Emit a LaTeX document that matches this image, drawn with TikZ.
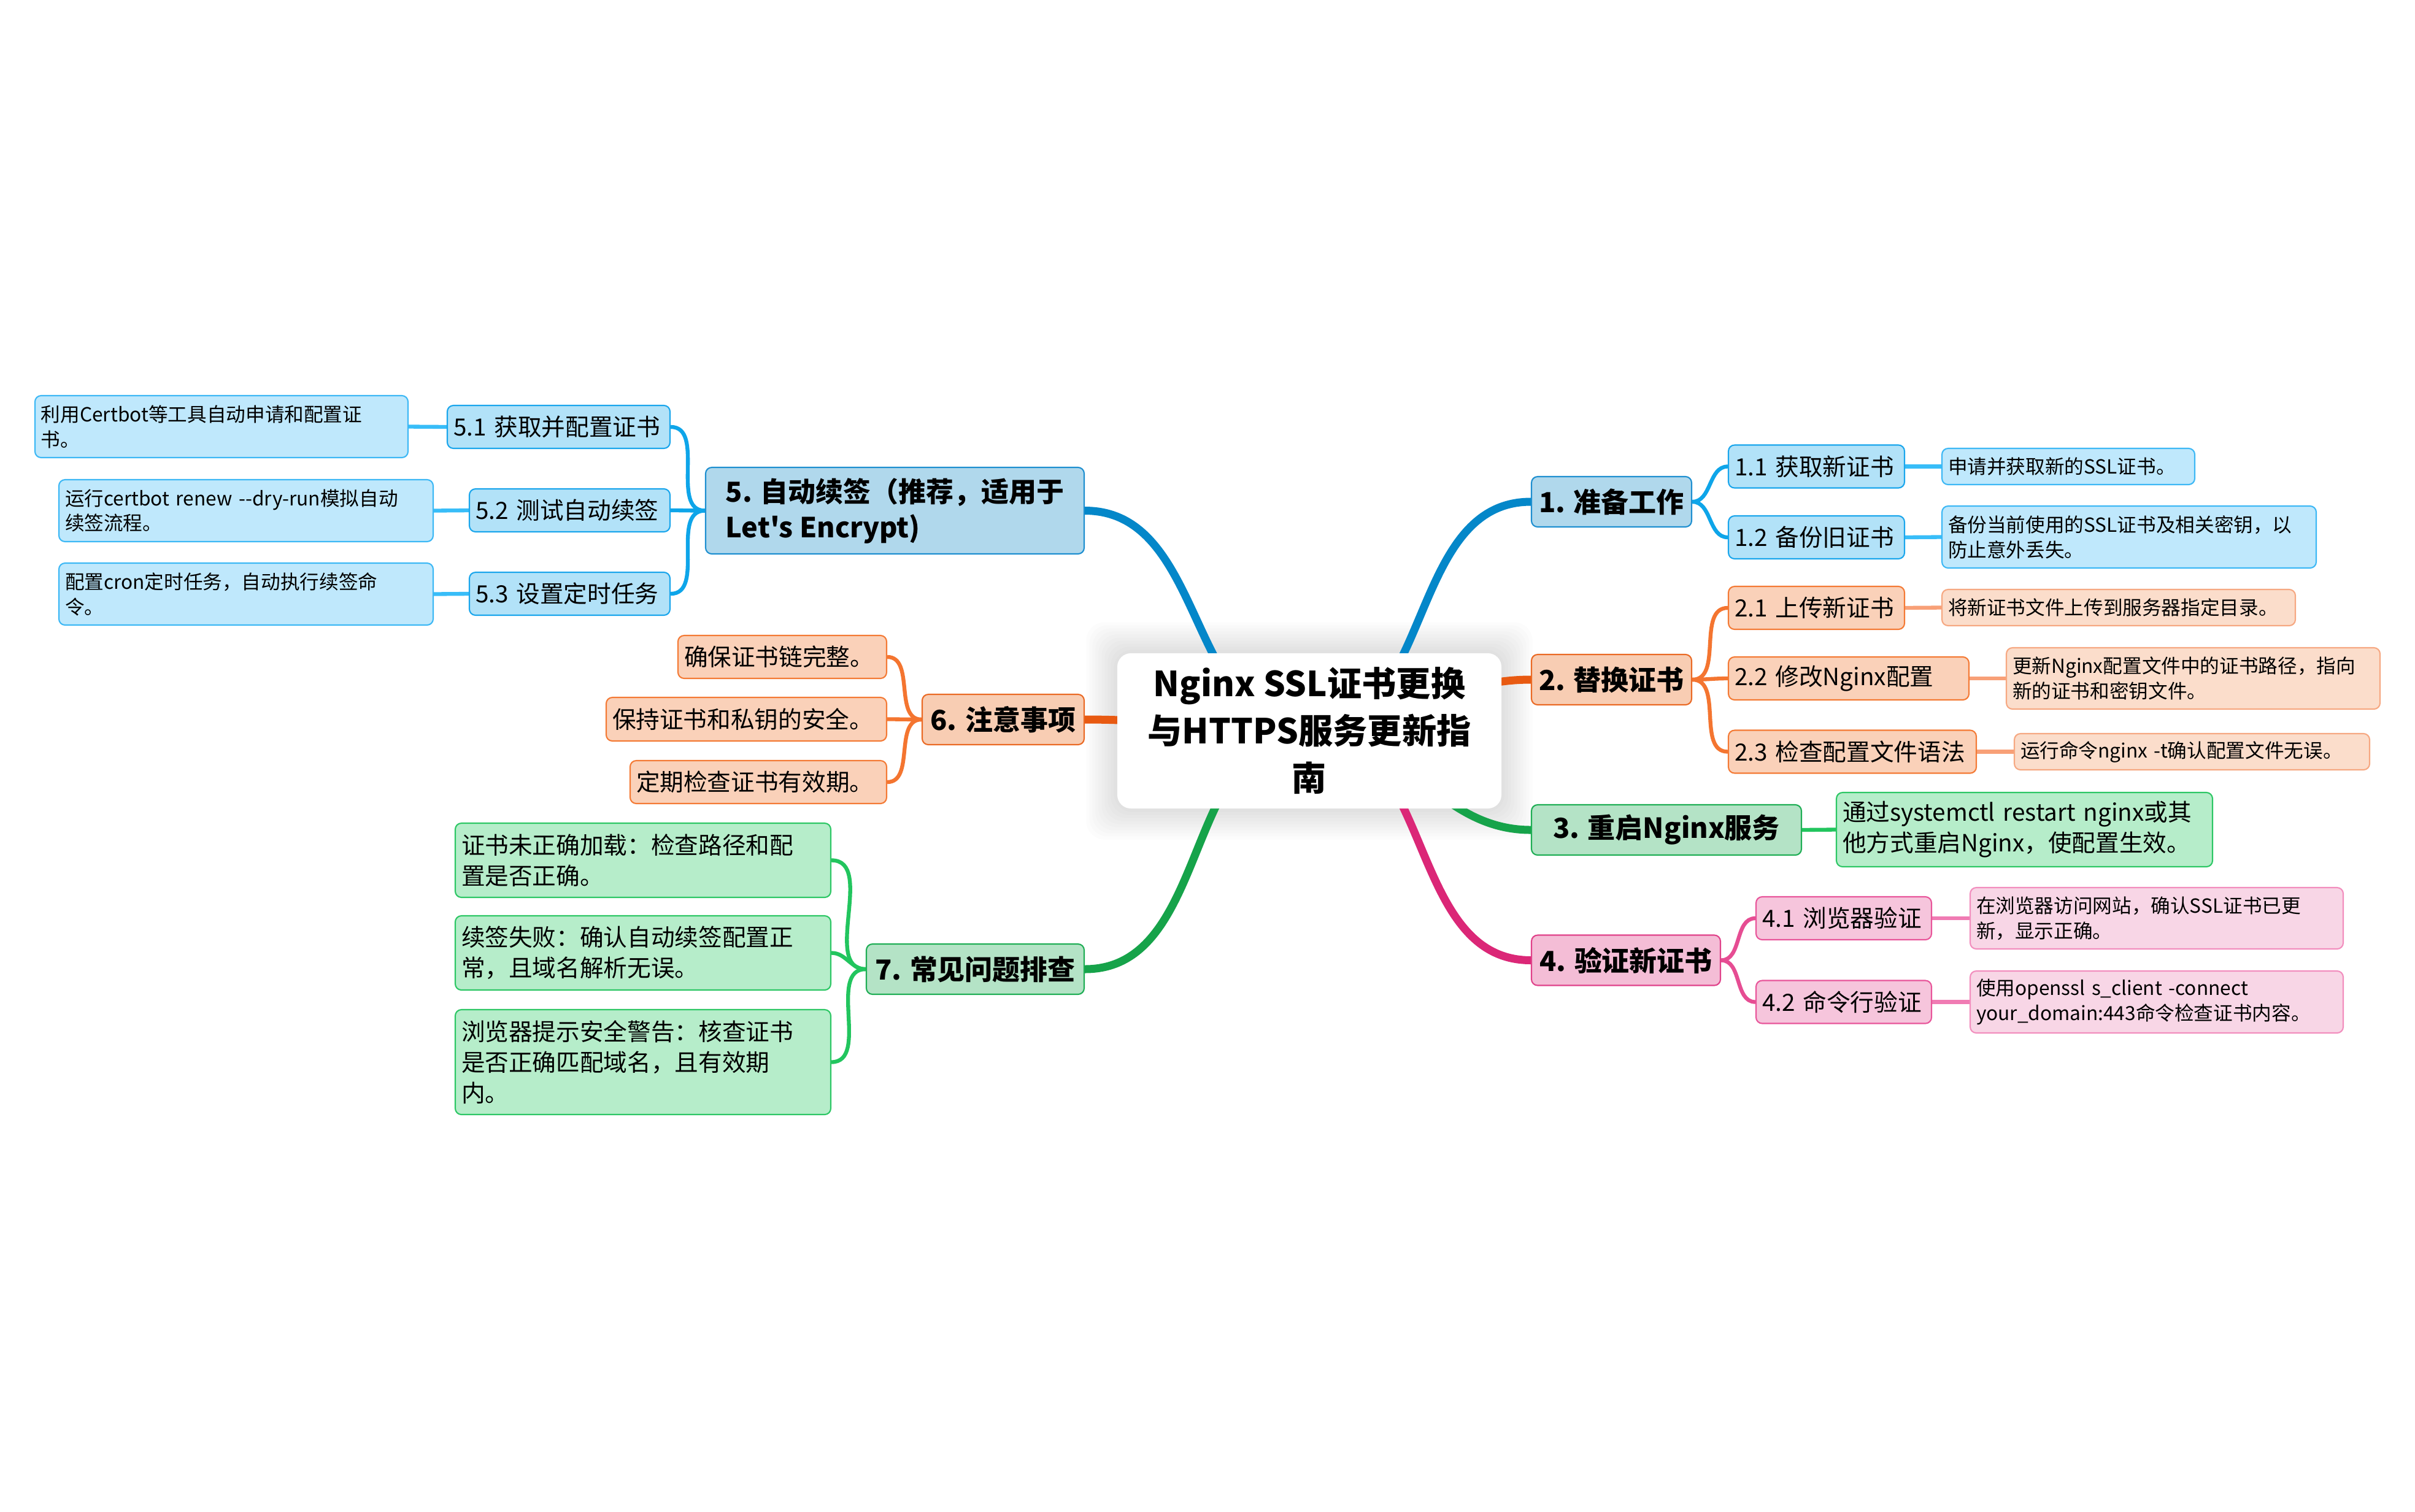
\documentclass[tikz,border=0pt]{standalone}
\usepackage{fontspec}
\setmainfont{Noto Sans CJK SC}[Ligatures=TeXOff]
\usetikzlibrary{backgrounds}

\definecolor{blueline}{HTML}{0487C9}
\definecolor{bluesubline}{HTML}{0EA5E9}
\definecolor{blueleafline}{HTML}{38BDF8}
\definecolor{bluemainfill}{HTML}{B0D8EC}
\definecolor{bluemaindraw}{HTML}{1E8FD0}
\definecolor{bluesubfill}{HTML}{B2E2F8}
\definecolor{bluesubdraw}{HTML}{1AA6EC}
\definecolor{blueleaffill}{HTML}{BFE8FC}
\definecolor{blueleafdraw}{HTML}{3DB8F5}

\definecolor{orangeline}{HTML}{E85A12}
\definecolor{orangesubline}{HTML}{F47530}
\definecolor{orangeleafline}{HTML}{F8A077}
\definecolor{orangemainfill}{HTML}{F8CDB3}
\definecolor{orangemaindraw}{HTML}{EA6A25}
\definecolor{orangesubfill}{HTML}{FAD1B9}
\definecolor{orangesubdraw}{HTML}{F47A35}
\definecolor{orangeleaffill}{HTML}{FBDDCB}
\definecolor{orangeleafdraw}{HTML}{F6A882}

\definecolor{greenline}{HTML}{16A34A}
\definecolor{greensubline}{HTML}{22C55E}
\definecolor{greenmainfill}{HTML}{B4E3C6}
\definecolor{greenmaindraw}{HTML}{1FAE55}
\definecolor{greenleaffill}{HTML}{B6EDCA}
\definecolor{greenleafdraw}{HTML}{2DC765}

\definecolor{pinkline}{HTML}{DB2777}
\definecolor{pinksubline}{HTML}{E64D93}
\definecolor{pinkleafline}{HTML}{F07BB3}
\definecolor{pinkmainfill}{HTML}{F4BDD6}
\definecolor{pinkmaindraw}{HTML}{E0428A}
\definecolor{pinksubfill}{HTML}{F6C5DC}
\definecolor{pinksubdraw}{HTML}{E8559A}
\definecolor{pinkleaffill}{HTML}{F8D6E6}
\definecolor{pinkleafdraw}{HTML}{F28EBE}

\begin{document}
\begin{tikzpicture}[
  rootbox/.style={fill=white, rounded corners=0.22cm, align=center, font=\fontsize{16}{21.9}\selectfont\bfseries, minimum width=6.26cm, minimum height=2.53cm},
  mainbox/.style 2 args={fill=#1, draw=#2, line width=0.6pt, rounded corners=0.1cm, align=left, inner xsep=0.1cm, font=\fontsize{12.8}{16.5}\selectfont\bfseries, minimum height=0.82cm},
  subbox/.style 2 args={fill=#1, draw=#2, line width=0.6pt, rounded corners=0.1cm, align=left, inner xsep=0.1cm, font=\fontsize{11}{14.2}\selectfont, minimum height=0.7cm},
  leafbox/.style 2 args={fill=#1, draw=#2, line width=0.6pt, rounded corners=0.1cm, align=left, inner xsep=0.1cm, font=\fontsize{9}{11.6}\selectfont, minimum height=0.59cm},
  trunk/.style={line width=3.7pt},
  twig/.style={line width=1.8pt}
]
\useasboundingbox (0,0) rectangle (39.36,-24.64);

% centre
\node[rootbox] (root) at (21.34,-11.915) {Nginx SSL证书更换\\与HTTPS服务更新指\\南};

% right side
\node[mainbox={bluemainfill}{bluemaindraw}, minimum width=2.61cm] (prep) at (26.265,-8.18) {1. 准备工作};
\node[subbox={bluesubfill}{bluesubdraw}, text width=2.67cm] (prepGet) at (29.605,-7.605) {1.1 获取新证书};
\node[leafbox={blueleaffill}{blueleafdraw}, text width=3.92cm] (prepGetTxt) at (33.71,-7.605) {申请并获取新的SSL证书。};
\node[subbox={bluesubfill}{bluesubdraw}, text width=2.67cm] (prepBak) at (29.605,-8.76) {1.2 备份旧证书};
\node[leafbox={blueleaffill}{blueleafdraw}, text width=5.90cm, minimum height=1.01cm] (prepBakTxt) at (34.70,-8.755) {备份当前使用的SSL证书及相关密钥，以\\防止意外丢失。};

\node[mainbox={orangemainfill}{orangemaindraw}, minimum width=2.61cm] (replace) at (26.265,-11.08) {2. 替换证书};
\node[subbox={orangesubfill}{orangesubdraw}, text width=2.67cm] (replUp) at (29.605,-9.91) {2.1 上传新证书};
\node[leafbox={orangeleaffill}{orangeleafdraw}, text width=5.56cm] (replUpTxt) at (34.53,-9.905) {将新证书文件上传到服务器指定目录。};
\node[subbox={orangesubfill}{orangesubdraw}, text width=3.72cm] (replConf) at (30.13,-11.06) {2.2 修改Nginx配置};
\node[leafbox={orangeleaffill}{orangeleafdraw}, text width=5.89cm, minimum height=1.0cm] (replConfTxt) at (35.745,-11.06) {更新Nginx配置文件中的证书路径，指向\\新的证书和密钥文件。};
\node[subbox={orangesubfill}{orangesubdraw}, text width=3.84cm] (replCheck) at (30.19,-12.255) {2.3 检查配置文件语法};
\node[leafbox={orangeleaffill}{orangeleafdraw}, text width=5.59cm] (replCheckTxt) at (35.725,-12.255) {运行命令nginx -t确认配置文件无误。};

\node[mainbox={greenmainfill}{greenmaindraw}, minimum width=4.40cm] (restart) at (27.16,-13.53) {3. 重启Nginx服务};
\node[subbox={greenleaffill}{greenleafdraw}, text width=5.93cm, minimum height=1.21cm] (restartTxt) at (32.995,-13.525) {通过systemctl restart nginx或其\\他方式重启Nginx，使配置生效。};

\node[mainbox={pinkmainfill}{pinkmaindraw}, minimum width=3.08cm] (verify) at (26.50,-15.655) {4. 验证新证书};
\node[subbox={pinksubfill}{pinksubdraw}, text width=2.66cm] (verBrowser) at (30.05,-14.97) {4.1 浏览器验证};
\node[leafbox={pinkleaffill}{pinkleafdraw}, text width=5.88cm, minimum height=1.0cm] (verBrowserTxt) at (35.15,-14.97) {在浏览器访问网站，确认SSL证书已更\\新，显示正确。};
\node[subbox={pinksubfill}{pinksubdraw}, text width=2.66cm] (verCmd) at (30.05,-16.335) {4.2 命令行验证};
\node[leafbox={pinkleaffill}{pinkleafdraw}, text width=5.88cm, minimum height=1.01cm] (verCmdTxt) at (35.15,-16.335) {使用openssl s\_client -connect\\your\_domain:443命令检查证书内容。};

% left side
\node[mainbox={bluemainfill}{bluemaindraw}, minimum width=6.17cm, minimum height=1.41cm] (renew) at (14.585,-8.325) {5. 自动续签（推荐，适用于\\Let's Encrypt)};
\node[subbox={bluesubfill}{bluesubdraw}, text width=3.43cm] (renewGet) at (9.105,-6.96) {5.1 获取并配置证书};
\node[leafbox={blueleaffill}{blueleafdraw}, text width=5.88cm, minimum height=1.01cm] (renewGetTxt) at (3.61,-6.955) {利用Certbot等工具自动申请和配置证\\书。};
\node[subbox={bluesubfill}{bluesubdraw}, text width=3.07cm] (renewTest) at (9.285,-8.32) {5.2 测试自动续签};
\node[leafbox={blueleaffill}{blueleafdraw}, text width=5.90cm, minimum height=1.01cm] (renewTestTxt) at (4.01,-8.325) {运行certbot renew --dry-run模拟自动\\续签流程。};
\node[subbox={bluesubfill}{bluesubdraw}, text width=3.07cm] (renewCron) at (9.285,-9.68) {5.3 设置定时任务};
\node[leafbox={blueleaffill}{blueleafdraw}, text width=5.90cm, minimum height=1.01cm] (renewCronTxt) at (4.01,-9.685) {配置cron定时任务，自动执行续签命\\令。};

\node[mainbox={orangemainfill}{orangemaindraw}, minimum width=2.64cm] (notes) at (16.35,-11.73) {6. 注意事项};
\node[subbox={orangesubfill}{orangesubdraw}, text width=3.20cm] (notesChain) at (12.75,-10.71) {确保证书链完整。};
\node[subbox={orangesubfill}{orangesubdraw}, text width=4.37cm, minimum height=0.71cm] (notesKey) at (12.165,-11.725) {保持证书和私钥的安全。};
\node[subbox={orangesubfill}{orangesubdraw}, text width=3.98cm] (notesDate) at (12.36,-12.75) {定期检查证书有效期。};

\node[mainbox={greenmainfill}{greenmaindraw}, minimum width=3.55cm] (trouble) at (15.895,-15.80) {7. 常见问题排查};
\node[subbox={greenleaffill}{greenleafdraw}, text width=5.92cm, minimum height=1.21cm] (troubleLoad) at (10.48,-14.025) {证书未正确加载：检查路径和配\\置是否正确。};
\node[subbox={greenleaffill}{greenleafdraw}, text width=5.92cm, minimum height=1.21cm] (troubleRenew) at (10.48,-15.535) {续签失败：确认自动续签配置正\\常，且域名解析无误。};
\node[subbox={greenleaffill}{greenleafdraw}, text width=5.92cm, minimum height=1.71cm] (troubleWarn) at (10.48,-17.315) {浏览器提示安全警告：核查证书\\是否正确匹配域名，且有效期\\内。};

\begin{scope}[on background layer]
\fill[white] (0,0) rectangle (39.36,-24.64);
% soft glow round the centre
\foreach \g in {1,...,10}
  \fill[black, opacity=0.012, rounded corners=0.3cm] ([shift={(-0.05*\g,0.05*\g)}]root.north west) rectangle ([shift={(0.05*\g,-0.05*\g)}]root.south east);

% trunks
\draw[trunk, blueline] (root.center) to[out=0,in=180] (prep.west);
\draw[trunk, orangeline] (root.center) to[out=0,in=180] (replace.west);
\draw[trunk, greenline] (root.center) to[out=0,in=180] (restart.west);
\draw[trunk, pinkline] (root.center) to[out=0,in=180] (verify.west);
\draw[trunk, blueline] (root.center) to[out=180,in=0] (renew.east);
\draw[trunk, orangeline] (root.center) to[out=180,in=0] (notes.east);
\draw[trunk, greenline] (root.center) to[out=180,in=0] (trouble.east);

% twigs
\draw[twig, bluesubline] (prep.east) to[out=0,in=180] (prepGet.west);
\draw[twig, bluesubline] (prep.east) to[out=0,in=180] (prepBak.west);
\draw[twig, blueleafline] (prepGet.east) -- (prepGetTxt.west);
\draw[twig, blueleafline] (prepBak.east) -- (prepBakTxt.west);

\draw[twig, orangesubline] (replace.east) to[out=0,in=180] (replUp.west);
\draw[twig, orangesubline] (replace.east) to[out=0,in=180] (replConf.west);
\draw[twig, orangesubline] (replace.east) to[out=0,in=180] (replCheck.west);
\draw[twig, orangeleafline] (replUp.east) -- (replUpTxt.west);
\draw[twig, orangeleafline] (replConf.east) -- (replConfTxt.west);
\draw[twig, orangeleafline] (replCheck.east) -- (replCheckTxt.west);

\draw[twig, greensubline] (restart.east) -- (restartTxt.west);

\draw[twig, pinksubline] (verify.east) to[out=0,in=180] (verBrowser.west);
\draw[twig, pinksubline] (verify.east) to[out=0,in=180] (verCmd.west);
\draw[twig, pinkleafline] (verBrowser.east) -- (verBrowserTxt.west);
\draw[twig, pinkleafline] (verCmd.east) -- (verCmdTxt.west);

\draw[twig, bluesubline] (renew.west) to[out=180,in=0] (renewGet.east);
\draw[twig, bluesubline] (renew.west) to[out=180,in=0] (renewTest.east);
\draw[twig, bluesubline] (renew.west) to[out=180,in=0] (renewCron.east);
\draw[twig, blueleafline] (renewGet.west) -- (renewGetTxt.east);
\draw[twig, blueleafline] (renewTest.west) -- (renewTestTxt.east);
\draw[twig, blueleafline] (renewCron.west) -- (renewCronTxt.east);

\draw[twig, orangesubline] (notes.west) to[out=180,in=0] (notesChain.east);
\draw[twig, orangesubline] (notes.west) to[out=180,in=0] (notesKey.east);
\draw[twig, orangesubline] (notes.west) to[out=180,in=0] (notesDate.east);

\draw[twig, greensubline] (trouble.west) to[out=180,in=0] (troubleLoad.east);
\draw[twig, greensubline] (trouble.west) to[out=180,in=0] (troubleRenew.east);
\draw[twig, greensubline] (trouble.west) to[out=180,in=0] (troubleWarn.east);
\end{scope}
\end{tikzpicture}
\end{document}
